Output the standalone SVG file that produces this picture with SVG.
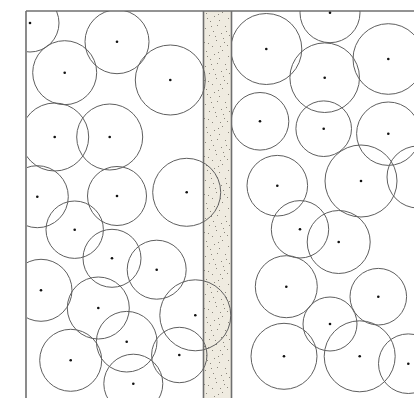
<svg xmlns="http://www.w3.org/2000/svg" width="414" height="399" viewBox="0 0 414 399">
<style>
.c{fill:none;stroke:#5f5f5f;stroke-width:1}
.d{fill:#111}
.b{stroke:#6f6f6f;stroke-width:1.6;fill:none}
</style>
<defs>
<pattern id="sand" patternUnits="userSpaceOnUse" x="203" y="11" width="28" height="38">
<rect width="28" height="38" fill="#efebe0"/>
<g fill="#8a867c">
<rect x="3" y="2" width="1" height="1"/><rect x="11" y="5" width="1" height="1"/><rect x="19" y="1" width="1" height="1"/>
<rect x="25" y="7" width="1" height="1"/><rect x="7" y="10" width="1" height="1"/><rect x="16" y="9" width="1" height="1"/>
<rect x="22" y="15" width="1" height="1"/><rect x="2" y="17" width="1" height="1"/><rect x="10" y="20" width="1" height="1"/>
<rect x="18" y="22" width="1" height="1"/><rect x="26" y="24" width="1" height="1"/><rect x="6" y="24" width="1" height="1"/>
<rect x="13" y="29" width="1" height="1"/><rect x="21" y="31" width="1" height="1"/><rect x="1" y="31" width="1" height="1"/>
<rect x="9" y="35" width="1" height="1"/><rect x="24" y="34" width="1" height="1"/><rect x="14" y="14" width="1" height="1"/>
<rect x="4" y="7" width="1" height="1"/><rect x="17" y="35" width="1" height="1"/>
<rect x="8" y="15" width="1" height="1"/><rect x="20" y="27" width="1" height="1"/><rect x="12" y="25" width="1" height="1"/>
<rect x="23" y="20" width="1" height="1"/><rect x="5" y="32" width="1" height="1"/><rect x="15" y="3" width="1" height="1"/>
</g>
</pattern>
<clipPath id="cl"><rect x="27" y="11" width="205" height="387"/></clipPath>
<clipPath id="cr"><rect x="232" y="11" width="182" height="387"/></clipPath>
</defs>
<rect width="414" height="399" fill="#fff"/>
<g id="strip">
<rect x="203.5" y="11" width="28" height="387" fill="url(#sand)"/>
<line class="b" x1="203.5" y1="11" x2="203.5" y2="398"/>
<line class="b" x1="231.5" y1="11" x2="231.5" y2="398"/>
</g>
<g id="frame">
<line class="b" x1="26" y1="11" x2="414" y2="11"/>
<line class="b" x1="26" y1="11" x2="26" y2="398"/>
</g>
<g id="left" clip-path="url(#cl)">
<g id="n1"><circle class="c" cx="30" cy="23" r="29"/><circle class="d" cx="30" cy="23" r="1.3"/></g>
<g id="n2"><circle class="c" cx="64.7" cy="72.7" r="32"/><circle class="d" cx="64.7" cy="72.7" r="1.3"/></g>
<g id="n3"><circle class="c" cx="117" cy="41.7" r="32"/><circle class="d" cx="117" cy="41.7" r="1.3"/></g>
<g id="n4"><circle class="c" cx="170.3" cy="80" r="35"/><circle class="d" cx="170.3" cy="80" r="1.3"/></g>
<g id="n5"><circle class="c" cx="54.7" cy="137" r="34"/><circle class="d" cx="54.7" cy="137" r="1.3"/></g>
<g id="n6"><circle class="c" cx="109.7" cy="137" r="33"/><circle class="d" cx="109.7" cy="137" r="1.3"/></g>
<g id="n7"><circle class="c" cx="37.3" cy="196.7" r="31"/><circle class="d" cx="37.3" cy="196.7" r="1.3"/></g>
<g id="n8"><circle class="c" cx="117" cy="196" r="29.5"/><circle class="d" cx="117" cy="196" r="1.3"/></g>
<g id="n9"><circle class="c" cx="186.7" cy="192.3" r="34"/><circle class="d" cx="186.7" cy="192.3" r="1.3"/></g>
<g id="n10"><circle class="c" cx="74.7" cy="229.7" r="28.7"/><circle class="d" cx="74.7" cy="229.7" r="1.3"/></g>
<g id="n11"><circle class="c" cx="112" cy="258.3" r="29"/><circle class="d" cx="112" cy="258.3" r="1.3"/></g>
<g id="n12"><circle class="c" cx="156.7" cy="269.7" r="29.5"/><circle class="d" cx="156.7" cy="269.7" r="1.3"/></g>
<g id="n13"><circle class="c" cx="41" cy="290.3" r="31"/><circle class="d" cx="41" cy="290.3" r="1.3"/></g>
<g id="n14"><circle class="c" cx="98.3" cy="308" r="31"/><circle class="d" cx="98.3" cy="308" r="1.3"/></g>
<g id="n15"><circle class="c" cx="195.3" cy="315.3" r="35.5"/><circle class="d" cx="195.3" cy="315.3" r="1.3"/></g>
<g id="n16"><circle class="c" cx="126.7" cy="341.7" r="30.3"/><circle class="d" cx="126.7" cy="341.7" r="1.3"/></g>
<g id="n17"><circle class="c" cx="179.3" cy="355" r="27.7"/><circle class="d" cx="179.3" cy="355" r="1.3"/></g>
<g id="n18"><circle class="c" cx="70.7" cy="360.3" r="31"/><circle class="d" cx="70.7" cy="360.3" r="1.3"/></g>
<g id="n19"><circle class="c" cx="133.3" cy="383.7" r="29.5"/><circle class="d" cx="133.3" cy="383.7" r="1.3"/></g>
</g>
<g id="right" clip-path="url(#cr)">
<g id="n20"><circle class="c" cx="330" cy="12.7" r="30"/><circle class="d" cx="330" cy="12.7" r="1.3"/></g>
<g id="n21"><circle class="c" cx="266.3" cy="49" r="35.5"/><circle class="d" cx="266.3" cy="49" r="1.3"/></g>
<g id="n22"><circle class="c" cx="324.7" cy="77.7" r="34.8"/><circle class="d" cx="324.7" cy="77.7" r="1.3"/></g>
<g id="n23"><circle class="c" cx="388.3" cy="59" r="35.3"/><circle class="d" cx="388.3" cy="59" r="1.3"/></g>
<g id="n24"><circle class="c" cx="260" cy="121.3" r="28.8"/><circle class="d" cx="260" cy="121.3" r="1.3"/></g>
<g id="n25"><circle class="c" cx="323.7" cy="128.7" r="27.8"/><circle class="d" cx="323.7" cy="128.7" r="1.3"/></g>
<g id="n26"><circle class="c" cx="388.3" cy="133.7" r="31.7"/><circle class="d" cx="388.3" cy="133.7" r="1.3"/></g>
<g id="n27"><circle class="c" cx="277.3" cy="185.7" r="30.3"/><circle class="d" cx="277.3" cy="185.7" r="1.3"/></g>
<g id="n28"><circle class="c" cx="361" cy="181" r="36"/><circle class="d" cx="361" cy="181" r="1.3"/></g>
<g id="n29"><circle class="c" cx="418" cy="177" r="31"/></g>
<g id="n30"><circle class="c" cx="300" cy="229.3" r="28.7"/><circle class="d" cx="300" cy="229.3" r="1.3"/></g>
<g id="n31"><circle class="c" cx="338.7" cy="242" r="31.5"/><circle class="d" cx="338.7" cy="242" r="1.3"/></g>
<g id="n32"><circle class="c" cx="286.3" cy="286.7" r="31"/><circle class="d" cx="286.3" cy="286.7" r="1.3"/></g>
<g id="n33"><circle class="c" cx="378.3" cy="296.7" r="28.3"/><circle class="d" cx="378.3" cy="296.7" r="1.3"/></g>
<g id="n34"><circle class="c" cx="330" cy="324" r="27"/><circle class="d" cx="330" cy="324" r="1.3"/></g>
<g id="n35"><circle class="c" cx="284" cy="356.3" r="33"/><circle class="d" cx="284" cy="356.3" r="1.3"/></g>
<g id="n36"><circle class="c" cx="359.7" cy="356.3" r="35.5"/><circle class="d" cx="359.7" cy="356.3" r="1.3"/></g>
<g id="n37"><circle class="c" cx="408.3" cy="363.7" r="29.8"/><circle class="d" cx="408.3" cy="363.7" r="1.3"/></g>
</g>
</svg>
